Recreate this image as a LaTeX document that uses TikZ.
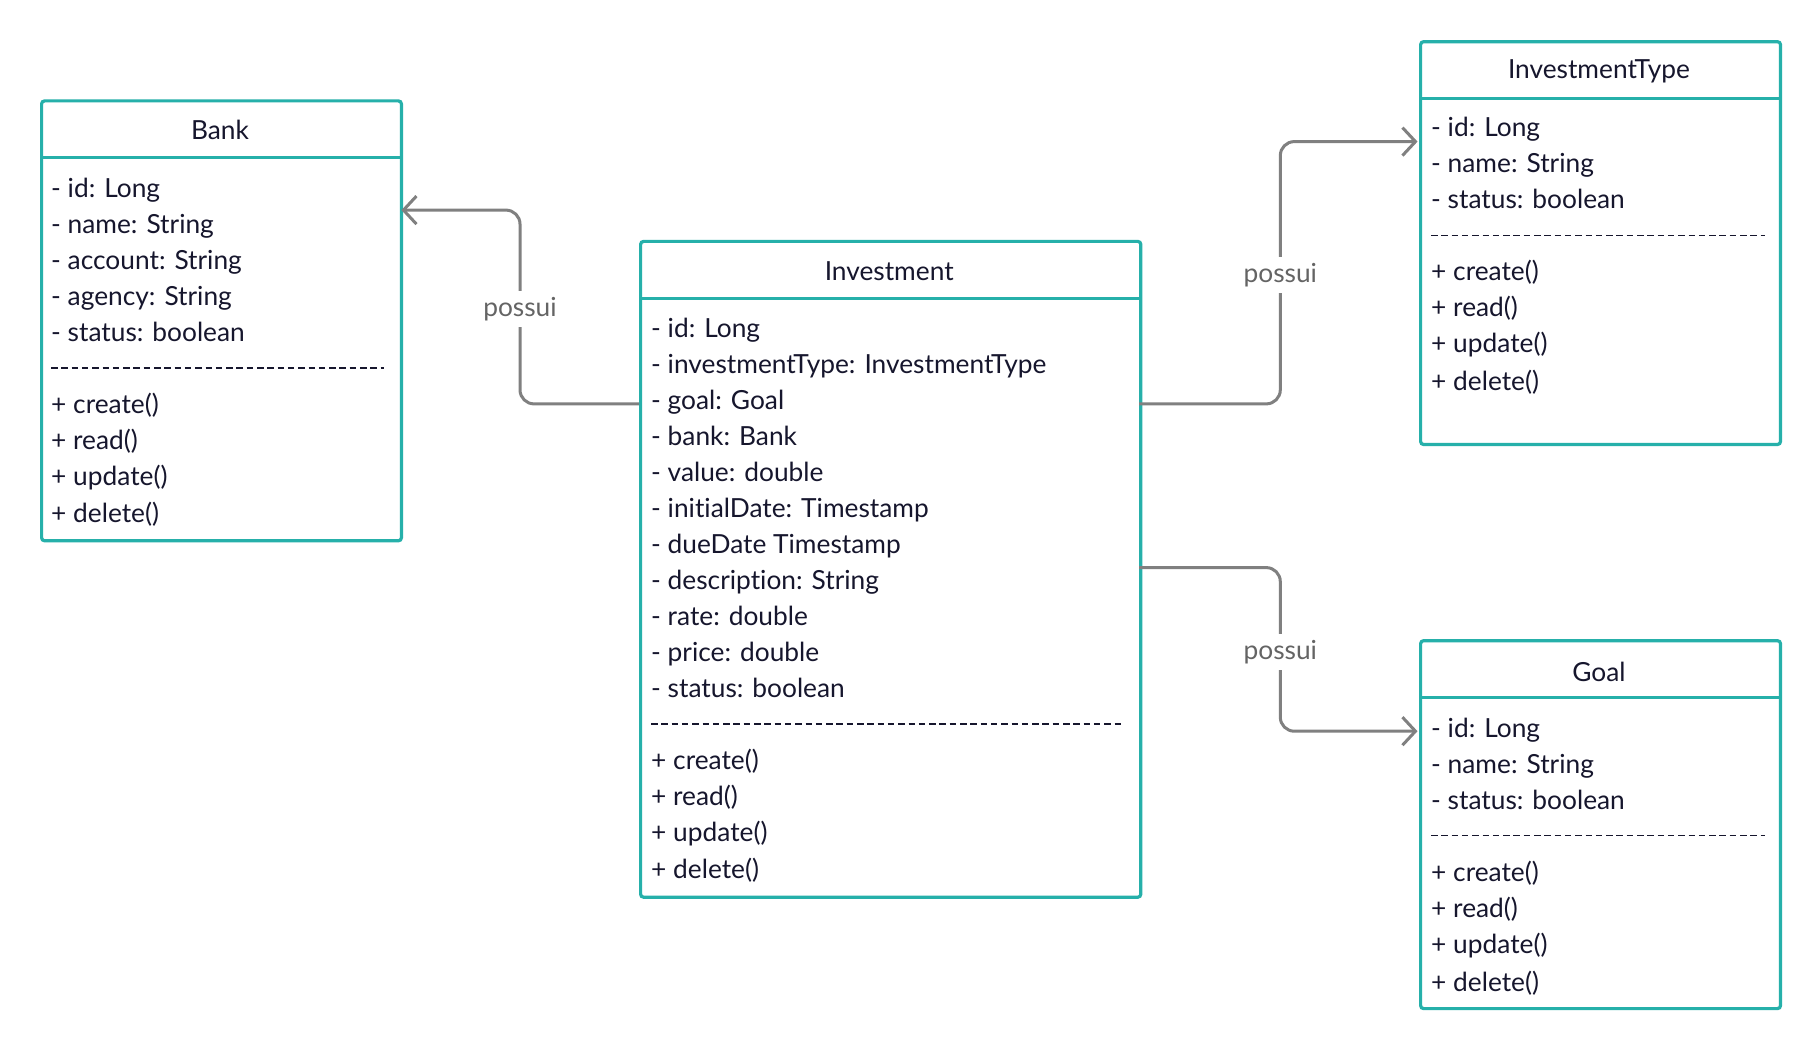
\documentclass[tikz,border=0pt]{standalone}
\usepackage{fontspec}
\setmainfont{Lato}[Ligatures=NoCommon]
\usetikzlibrary{arrows.meta}
\definecolor{umlteal}{RGB}{38,176,170}
\definecolor{umltext}{RGB}{22,22,45}
\definecolor{umlgray}{RGB}{128,128,128}
\definecolor{lblgray}{RGB}{100,100,100}
\tikzset{
  umlbox/.style={draw=umlteal, line width=3.2pt, rounded corners=3pt, anchor=north west, inner sep=0pt, fill=white},
  umlsep/.style={draw=umlteal, line width=3.2pt},
  umltitle/.style={font=\fontsize{26.3}{31}\selectfont, text=umltext, anchor=center, inner sep=0pt},
  umlrow/.style={font=\fontsize{26.3}{31}\selectfont, text=umltext, anchor=west, inner sep=0pt, text height=19.5pt, text depth=5.5pt},
  umldash/.style={draw=umltext, line width=1.5pt, dash pattern=on 6.5pt off 3.8pt},
  conn/.style={draw=umlgray, line width=3pt, rounded corners=14pt, -{Straight Barb[length=13pt,width=28pt,line width=3pt]}},
  lbl/.style={font=\fontsize{26.3}{31}\selectfont, text=lblgray, fill=white, inner sep=6pt, anchor=center}
}
\begin{document}
\begin{tikzpicture}[x=1pt,y=-1pt]
\useasboundingbox[fill=white] (0,0) rectangle (1820,1048);

% ---------- Bank ----------
\node[umlbox, minimum width=359.8pt, minimum height=439.9pt] (bank) at (40,99.3) {};
\draw[umlsep] (40,157.9) -- (399.8,157.9);
\node[umltitle] (bankT) at (220,130) {Bank};
\node[umlrow] (b1) at (51,190.4) {- id: Long};
\node[umlrow] (b2) at (51,226.4) {- name: String};
\node[umlrow] (b3) at (51,262.3) {- account: String};
\node[umlrow] (b4) at (51,298.3) {- agency: String};
\node[umlrow] (b5) at (51,334.3) {- status: boolean};
\draw[umldash] (51,367.8) -- (384,367.8);
\node[umlrow] (b6) at (51,406.3) {+ create()};
\node[umlrow] (b7) at (51,442.2) {+ read()};
\node[umlrow] (b8) at (51,478.2) {+ update()};
\node[umlrow] (b9) at (51,515.4) {+ delete()};

% ---------- Investment ----------
\node[umlbox, minimum width=500.2pt, minimum height=655.8pt] (inv) at (639,239.8) {};
\draw[umlsep] (639,298.3) -- (1139.2,298.3);
\node[umltitle] (invT) at (889.2,271.4) {Investment};
\node[umlrow] (i1) at (651,330.8) {- id: Long};
\node[umlrow] (i2) at (651,366.8) {- investmentType: InvestmentType};
\node[umlrow] (i3) at (651,402.8) {- goal: Goal};
\node[umlrow] (i4) at (651,438.8) {- bank: Bank};
\node[umlrow] (i5) at (651,474.7) {- value: double};
\node[umlrow] (i6) at (651,510.7) {- initialDate: Timestamp};
\node[umlrow] (i7) at (651,546.7) {- dueDate Timestamp};
\node[umlrow] (i8) at (651,582.7) {- description: String};
\node[umlrow] (i9) at (651,618.7) {- rate: double};
\node[umlrow] (i10) at (651,654.7) {- price: double};
\node[umlrow] (i11) at (651,690.6) {- status: boolean};
\draw[umldash] (651,724.1) -- (1124,724.1);
\node[umlrow] (i12) at (651,762.6) {+ create()};
\node[umlrow] (i13) at (651,798.6) {+ read()};
\node[umlrow] (i14) at (651,834.6) {+ update()};
\node[umlrow] (i15) at (651,871.7) {+ delete()};

% ---------- InvestmentType ----------
\node[umlbox, minimum width=359.9pt, minimum height=402.8pt] (itype) at (1419,40.1) {};
\draw[umlsep] (1419,98.7) -- (1778.9,98.7);
\node[umltitle] (itT) at (1599,71.8) {InvestmentType};
\node[umlrow] (t1) at (1431,130) {- id: Long};
\node[umlrow] (t2) at (1431,166) {- name: String};
\node[umlrow] (t3) at (1431,202) {- status: boolean};
\draw[umldash] (1431,235.5) -- (1765,235.5);
\node[umlrow] (t4) at (1431,273.9) {+ create()};
\node[umlrow] (t5) at (1431,309.9) {+ read()};
\node[umlrow] (t6) at (1431,345.9) {+ update()};
\node[umlrow] (t7) at (1431,383) {+ delete()};

% ---------- Goal ----------
\node[umlbox, minimum width=359.9pt, minimum height=367.9pt] (goal) at (1419,639.1) {};
\draw[umlsep] (1419,697.6) -- (1778.9,697.6);
\node[umltitle] (gT) at (1599,671.9) {Goal};
\node[umlrow] (g1) at (1431,730.1) {- id: Long};
\node[umlrow] (g2) at (1431,766.1) {- name: String};
\node[umlrow] (g3) at (1431,802.1) {- status: boolean};
\draw[umldash] (1431,835.5) -- (1765,835.5);
\node[umlrow] (g4) at (1431,874) {+ create()};
\node[umlrow] (g5) at (1431,910) {+ read()};
\node[umlrow] (g6) at (1431,946) {+ update()};
\node[umlrow] (g7) at (1431,984.3) {+ delete()};

% ---------- connector anchors ----------
\coordinate (invL) at (639,403.9);
\coordinate (bankR) at (401.4,210.1);
\coordinate (invR1) at (1139.2,403.9);
\coordinate (itL) at (1417.5,141.6);
\coordinate (invR2) at (1139.2,567.6);
\coordinate (goalL) at (1417.5,731.2);

% ---------- connectors ----------
\draw[conn] (invL) -- (520,403.9) -- (520,210.1) -- (bankR);
\node[lbl] (l1) at (520,308.8) {possui};
\draw[conn] (invR1) -- (1280.3,403.9) -- (1280.3,141.6) -- (itL);
\node[lbl] (l2) at (1280.3,275.1) {possui};
\draw[conn] (invR2) -- (1280.3,567.6) -- (1280.3,731.2) -- (goalL);
\node[lbl] (l3) at (1280.3,652.3) {possui};
\end{tikzpicture}
\end{document}
